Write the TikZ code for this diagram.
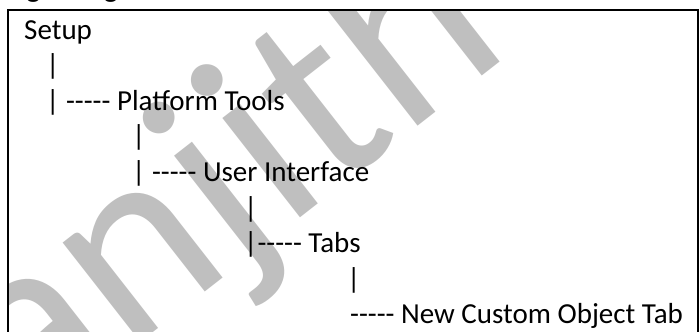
\documentclass[tikz,border=0pt]{standalone}
\usepackage{fontspec}
\setmainfont{Carlito}[Ligatures=TeXOff]
\usepackage{tikz}
\usetikzlibrary{calc,positioning}
\usepackage{xcolor}

\tikzset{
  treeline/.style={anchor=base west, inner sep=0pt, font=\fontsize{29}{35}\selectfont},
  markword/.style={anchor=base west, inner sep=0pt, rotate=38, text=black!25, font=\fontsize{264}{264}\selectfont}
}

\begin{document}
\begin{tikzpicture}[x=1pt,y=1pt]
\useasboundingbox (0,0) rectangle (699,-332);

% Faint watermark behind the box contents
\begin{scope}
  \clip (9,-11) rectangle (697,-332);
  \node[markword] (mark) at (-86,-520) {Ranjith};
\end{scope}

% Heading, cut at the top edge
\node[treeline, font=\bfseries\fontsize{29}{35}\selectfont] (title) at (7,2.5) {Lightning:};

% Outer box of the menu path
\draw[line width=1.6] (8,-340) -- (8,-10) -- (698,-10) -- (698,-340);

% The menu path, one text line after the other
\node[treeline] (setup) at (24,-39) {Setup};
\node[treeline] (bar1) at (46,-74.6) {|};
\node[treeline] (tools) at (46,-110.2) {| ----- Platform Tools};
\node[treeline] (bar2) at (132,-145.8) {|};
\node[treeline] (ui) at (132,-181.4) {| ----- User Interface};
\node[treeline] (bar3) at (244,-217) {|};
\node[treeline] (tabs) at (244,-252.6) {|----- Tabs};
\node[treeline] (bar4) at (347,-288.2) {|};
\node[treeline] (newtab) at (350,-323.8) {----- New Custom Object Tab};
\end{tikzpicture}
\end{document}
